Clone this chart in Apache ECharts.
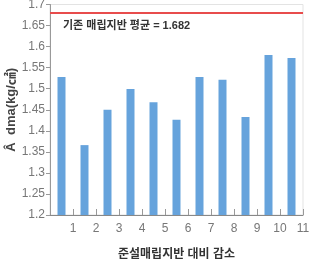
<!DOCTYPE html>
<html>
<head>
<meta charset="utf-8">
<script src="https://cdn.jsdelivr.net/npm/echarts@6/dist/echarts.min.js"></script>
<style>
  html, body { margin: 0; padding: 0; background: #fff; }
  #chart { width: 310px; height: 259px; }
</style>
</head>
<body>
<div id="chart"></div>
<script>
// case numbers on the x axis
const caseLabels = [1, 2, 3, 4, 5, 6, 7, 8, 9, 10, 11]
// dma values per case (kg/㎠)
const dmaValues = [1.528, 1.366, 1.450, 1.499, 1.468, 1.426, 1.528, 1.521, 1.433, 1.580, 1.573]
// reference average of existing reclaimed ground
const baseAverage = 1.682

const chart = echarts.init(document.getElementById('chart'))

// each bar sits in the middle of its interval, label sits at the right end
const barData = caseLabels.map((c, i) => [c - 0.5, dmaValues[i]])

const font = '"Liberation Sans", Arial, "Noto Sans CJK KR", sans-serif'

chart.setOption({
  animation: false,
  backgroundColor: '#fff',
  grid: {
    left: 50, right: 7, top: 4.5, bottom: 44,
    outerBoundsMode: 'none',
    show: true, borderColor: '#e3e3e3', borderWidth: 1
  },
  xAxis: {
    type: 'value',
    min: 0,
    max: 11,
    interval: 1,
    name: '준설매립지반 대비 감소',
    nameLocation: 'middle',
    nameGap: 34,
    nameMoveOverlap: false,
    nameTextStyle: { color: '#333', fontSize: 12, fontWeight: 'bold', fontFamily: font },
    axisLine: { lineStyle: { color: '#888' } },
    axisTick: { inside: true, length: 6, lineStyle: { color: '#999' } },
    splitLine: { show: false },
    axisLabel: {
      color: '#777', fontSize: 12, fontFamily: font, margin: 8,
      formatter: v => (v === 0 ? '' : String(v))
    }
  },
  yAxis: {
    type: 'value',
    min: 1.2,
    max: 1.7,
    interval: 0.05,
    name: 'Â  dma(kg/㎠)',
    nameLocation: 'middle',
    nameGap: 32,
    nameMoveOverlap: false,
    nameTextStyle: { color: '#444', fontSize: 13, fontWeight: 'bold', fontFamily: font },
    axisLine: { show: true, lineStyle: { color: '#999' } },
    axisTick: { show: true, length: 4, lineStyle: { color: '#999' } },
    splitLine: { show: false },
    axisLabel: {
      color: '#777', fontSize: 12, fontFamily: font, margin: 5,
      formatter: v => String(+v.toFixed(2))
    }
  },
  series: [
    {
      type: 'bar',
      barWidth: 8,
      itemStyle: { color: '#66a3dc' },
      data: barData,
      markLine: {
        silent: true,
        symbol: 'none',
        lineStyle: { color: '#e84c4c', width: 2, type: 'solid' },
        label: {
          position: 'insideStartBottom',
          formatter: '기존 매립지반 평균 = ' + baseAverage,
          color: '#333',
          fontSize: 11,
          fontWeight: 'bold',
          fontFamily: font,
          distance: 8,
          offset: [5, 0]
        },
        data: [{ yAxis: baseAverage }]
      }
    }
  ]
})
</script>
</body>
</html>
